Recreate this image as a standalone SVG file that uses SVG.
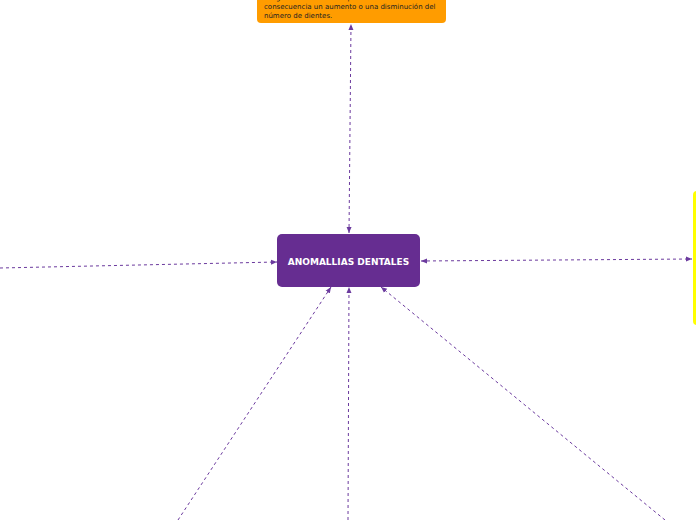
<svg xmlns="http://www.w3.org/2000/svg" width="696" height="520" viewBox="0 0 696 520">
<defs>
<style>
.c{fill:none;stroke:#6B3A9E;stroke-width:1;stroke-dasharray:3,3}
.t{font-family:"Verdana","DejaVu Sans",sans-serif;font-size:7px;fill:#222}
</style>
<marker id="a" viewBox="0 0 6 6" refX="6" refY="3" markerWidth="6" markerHeight="6" orient="auto-start-reverse" markerUnits="userSpaceOnUse">
<path d="M0,0.5 L6,3 L0,5.5 Z" fill="#6B3A9E"/>
</marker>
</defs>
<rect width="696" height="520" fill="#fff"/>
<g id="connectors">
<path class="c" d="M349,233 L351,24" marker-start="url(#a)" marker-end="url(#a)"/>
<path class="c" d="M0,268 L277,262" marker-end="url(#a)"/>
<path class="c" d="M421,261 L692,259" marker-start="url(#a)" marker-end="url(#a)"/>
<path class="c" d="M178,520 L331,287" marker-end="url(#a)"/>
<path class="c" d="M348,520 L349,287" marker-end="url(#a)"/>
<path class="c" d="M665,520 L381,287" marker-end="url(#a)"/>
</g>
<g id="top-node">
<rect x="257" y="-20" width="189" height="43" rx="4" fill="#FF9C00"/>
<text class="t" x="264" y="-0.5">las glándulas dentarias puede tener como</text>
<text class="t" x="264" y="8.5">consecuencia un aumento o una disminución del</text>
<text class="t" x="264" y="17.5">número de dientes.</text>
</g>
<g id="center-node">
<rect x="277" y="234" width="143" height="53" rx="5" fill="#662D91"/>
<text x="348.5" y="265" text-anchor="middle" font-family="Verdana,'DejaVu Sans',sans-serif" font-weight="bold" font-size="9" fill="#fff">ANOMALLIAS DENTALES</text>
</g>
<g id="right-node">
<rect x="693" y="191" width="20" height="134" rx="4" fill="#FFFF00"/>
</g>
</svg>
